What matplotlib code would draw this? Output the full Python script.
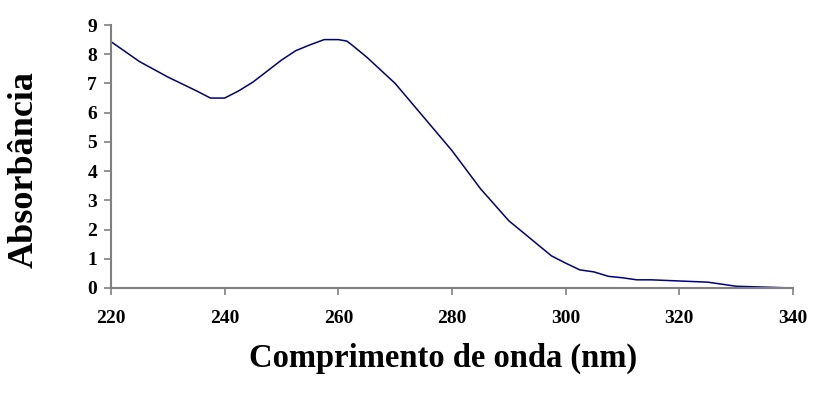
import numpy as np
import matplotlib.pyplot as plt

# wavelength (nm) and absorbance
comprimento = [220, 225, 230, 235, 237.5, 240, 242.5, 245, 250, 252.5, 255, 257.5,
               260, 261.5, 262.5, 265, 270, 275, 280, 285, 290, 295, 297.5, 300,
               302.5, 305, 307.5, 310, 312.5, 315, 320, 325, 330, 335, 340]
absorbancia = [8.43, 7.75, 7.22, 6.75, 6.5, 6.5, 6.75, 7.05, 7.8, 8.12, 8.32, 8.5,
               8.5, 8.45, 8.3, 7.9, 7.0, 5.85, 4.7, 3.4, 2.3, 1.5, 1.1, 0.85,
               0.62, 0.55, 0.4, 0.35, 0.28, 0.28, 0.24, 0.2, 0.06, 0.03, 0.0]
xticks = [220, 240, 260, 280, 300, 320, 340]
yticks = list(range(0, 10))

plt.rcParams['font.family'] = ['Liberation Serif', 'DejaVu Serif']

fig = plt.figure(figsize=(8.13, 3.96), dpi=100)
ax = fig.add_axes([111/813, 1 - 288/396, (793 - 111)/813, (288 - 25)/396])

ax.plot(comprimento, absorbancia, color='#000080', lw=1.1)

ax.set_xlim(220, 340)
ax.set_ylim(0, 9)
ax.set_xticks(xticks)
ax.set_yticks(yticks)

for s in ['top', 'right']:
    ax.spines[s].set_visible(False)
for s in ['left', 'bottom']:
    ax.spines[s].set_color('#808080')
    ax.spines[s].set_linewidth(1.5)

ax.tick_params(axis='both', direction='out', length=5, width=1.2, color='#808080',
               labelsize=14)
ax.tick_params(axis='x', pad=11)
ax.tick_params(axis='y', pad=5)
for lab in ax.get_xticklabels() + ax.get_yticklabels():
    lab.set_fontweight('bold')

fig.text(443/813, 1 - 358/396, 'Comprimento de onda (nm)', ha='center',
         va='center', fontsize=23.5, fontweight='bold')
fig.text(24/813, 1 - 170/396, 'Absorbância', ha='center', va='center',
         rotation=90, fontsize=26, fontweight='bold')

fig.savefig('out.png', dpi=100)
